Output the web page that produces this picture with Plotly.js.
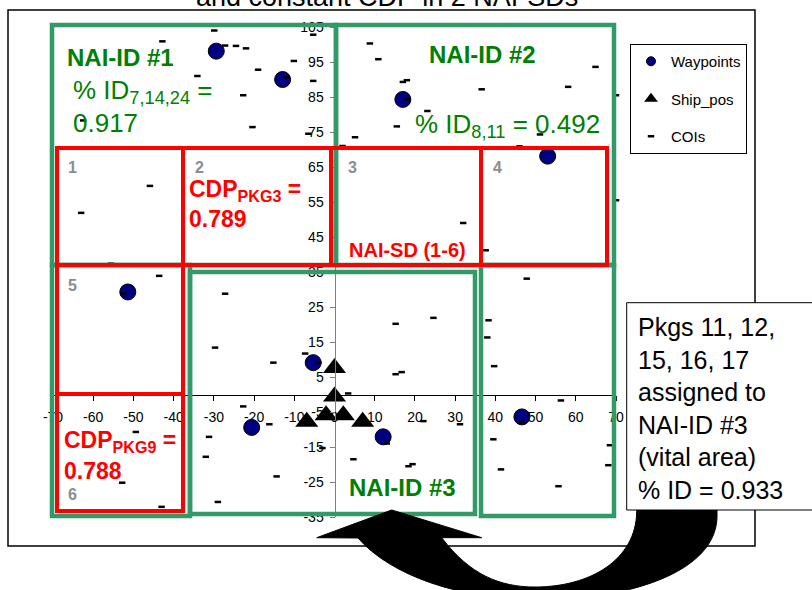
<!DOCTYPE html>
<html>
<head>
<meta charset="utf-8">
<script src="https://cdn.plot.ly/plotly-3.0.1.min.js"></script>
<style>html,body{margin:0;padding:0;background:#fff;}#chart{width:812px;height:590px;}</style>
</head>
<body>
<div id="chart"></div>
<script>
// ---- data ----
const waypointX = [-29.4, -12.9, 17.0, 53.0, -51.4, -5.3, -20.6, 12.1, 46.6];
const waypointY = [98.1, 90.0, 84.3, 68.1, 29.3, 9.1, -9.4, -12.1, -6.4];
const shipX = [0, 0, -2.1, 2.2, -6.9, 7.0];
const shipY = [7.6, -0.6, -5.9, -5.9, -7.8, -7.8];
const coiX = [-29.9, -42.8, -27.2, -24.5, -22.0, -10.1, -5.3, -11.9, -19.0, -34.1, -22.7, -20.4, -62.5, -6.5, -5.3, -45.9, -63.0, -55.6,
  8.8, 10.9, 17.0, 18.0, 18.0, 23.1, 36.6, 58.1, 64.9, 15.5, 5.1, 2.0, 46.0, 51.1, 32.0, 37.6, 70.0, 70.0,
  -43.6, -27.2, -29.7, -15.2, -7.3, -4.0, -52.5, -22.7, -16.2, -49.4, -31.2, -32.0, -14.4, -52.8, -29.0, -43.0, -3.0,
  47.8, 38.3, 15.2, 24.6, 38.0, 39.7, 15.2, 16.7, 3.4, 56.3, 39.5, 46.6, 22.1, 31.2, 13.0, 4.7, 18.4, 19.4, 41.4, 55.7, 68.5, 68.1];
const coiY = [104.0, 100.9, 99.7, 99.6, 98.9, 95.3, 89.6, 90.7, 92.8, 91.0, 85.5, 76.4, 78.3, 74.5, 102.8, 59.6, 51.9, 37.4,
  100.3, 95.8, 89.3, 89.8, 84.3, 81.0, 87.2, 87.9, 93.6, 76.6, 73.5, 71.0, 70.9, 74.3, 49.0, 41.2, 85.5, 55.5,
  33.9, 28.8, 13.4, 9.1, 11.7, 9.1, 28.8, -3.4, -8.5, -10.7, -12.1, -17.8, -23.4, -25.2, -30.7, -32.1, -15.3,
  33.1, 21.2, 20.2, 21.9, 16.3, 8.1, 5.8, 6.4, 0.3, -1.7, -12.8, -7.9, -7.6, -8.5, -14.0, -18.5, -20.5, -19.9, -21.4, -26.2, -14.5, -20.2];
const seriesNames = ['Waypoints', 'Ship_pos', 'COIs'];
const xTickVals = [-70, -60, -50, -40, -30, -20, -10, 0, 10, 20, 30, 40, 50, 60, 70];
const yTickVals = [105, 95, 85, 75, 65, 55, 45, 35, 25, 15, 5, -5, -15, -25, -35];

// ---- geometry helpers (pixel -> paper) ----
const W = 812, H = 590, L = 53, T = 27, PW = 563, PH = 490;
function px(x) { return (x - L) / PW; }
function py(y) { return (T + PH - y) / PH; }
function rectShape(x0, y0, x1, y1, color, width, fill) {
  return {type: 'rect', xref: 'paper', yref: 'paper', x0: px(x0), y0: py(y1), x1: px(x1), y1: py(y0),
    line: {color: color, width: width}, fillcolor: fill || 'rgba(0,0,0,0)', layer: 'above'};
}
function pathFrom(cmds) {
  return cmds.map(c => {
    const k = c[0]; const parts = [k];
    for (let i = 1; i < c.length; i += 2) parts.push(px(c[i]).toFixed(5) + ',' + py(c[i + 1]).toFixed(5));
    return parts.join(' ');
  }).join(' ');
}
const FONT = 'Liberation Sans, Arial, sans-serif';
const GREEN_LINE = '#339966', GREEN_TXT = '#008000', RED = '#FF0000', GREY = '#8c8c8c';
function ann(text, x, y, size, color, bold, xanchor, extra) {
  return Object.assign({text: bold ? '<b>' + text + '</b>' : text, xref: 'paper', yref: 'paper', x: px(x), y: py(y),
    xanchor: xanchor || 'left', yanchor: 'middle', showarrow: false,
    font: {family: FONT, size: size, color: color}}, extra || {});
}

const wpMarker = {symbol: 'circle', color: '#000080', line: {color: '#000000', width: 1}};
const shipMarker = {symbol: 'triangle-up', color: '#000000'};
const coiMarker = {symbol: 'line-ew', color: '#000000', line: {color: '#000000', width: 2.5}};

const traces = [
  {x: waypointX, y: waypointY, name: seriesNames[0], type: 'scatter', mode: 'markers', showlegend: false, cliponaxis: false,
   marker: Object.assign({size: 16}, wpMarker)},
  {x: shipX, y: shipY, name: seriesNames[1], type: 'scatter', mode: 'markers', showlegend: false, cliponaxis: false,
   marker: Object.assign({size: 20}, shipMarker)},
  {x: coiX, y: coiY, name: seriesNames[2], type: 'scatter', mode: 'markers', showlegend: false, cliponaxis: false,
   marker: Object.assign({size: 4.6}, coiMarker)},
  // legend entries (smaller symbols, like the reference legend)
  {x: [null], y: [null], name: seriesNames[0], type: 'scatter', mode: 'markers', legendgroup: 'a',
   marker: Object.assign({size: 9}, wpMarker)},
  {x: [null], y: [null], name: seriesNames[1], type: 'scatter', mode: 'markers', legendgroup: 'b',
   marker: Object.assign({size: 12}, shipMarker)},
  {x: [null], y: [null], name: seriesNames[2], type: 'scatter', mode: 'markers', legendgroup: 'c',
   marker: Object.assign({size: 4.6}, coiMarker)}
];

const shapes = [
  rectShape(8, 10, 755, 546, '#000000', 1.5),
  // green NAI-ID regions
  rectShape(52, 25, 336, 265, GREEN_LINE, 4.5),
  rectShape(336, 25, 614, 265, GREEN_LINE, 4.5),
  rectShape(52, 265, 190, 516, GREEN_LINE, 4.5),
  rectShape(190, 272, 475, 514, GREEN_LINE, 4.5),
  rectShape(481, 265, 614, 516, GREEN_LINE, 4.5),
  // red NAI-SD boxes
  rectShape(57, 148, 183, 265, RED, 4),
  rectShape(183, 148, 331, 265, RED, 4),
  rectShape(331, 148, 481, 265, RED, 4),
  rectShape(481, 148, 607, 265, RED, 4),
  rectShape(57, 265, 183, 394, RED, 4),
  rectShape(57, 394, 183, 511, RED, 4),
  // curved arrow
  {type: 'path', xref: 'paper', yref: 'paper', layer: 'above', fillcolor: '#000000', line: {color: '#000000', width: 1},
   path: pathFrom([['M', 717, 470], ['L', 717, 513], ['C', 720, 575, 620, 600, 540, 600], ['C', 460, 600, 390, 575, 358, 538],
     ['L', 316.7, 537.7], ['L', 391.7, 510], ['L', 481.7, 537.7], ['L', 441.7, 537.7],
     ['C', 470, 575, 500, 587, 535, 587], ['C', 590, 587, 636, 560, 636.7, 511.7], ['L', 636.7, 470], ['Z']])},
  // text box
  rectShape(626.7, 302.7, 830, 510, '#000000', 1, '#ffffff')
];

const annotations = [
  ann('and constant CDP in 2 NAI-SDs', 387, -3.5, 27, '#000000', false, 'center'),
  ann('NAI-ID #1', 120.5, 58, 24, GREEN_TXT, true, 'center'),
  ann('% ID<sub>7,14,24</sub> =', 71, 91, 26, GREEN_TXT, false),
  ann('0.917', 71, 123.3, 26, GREEN_TXT, false),
  ann('NAI-ID #2', 483, 54.3, 24, GREEN_TXT, true, 'center'),
  ann('% ID<sub>8,11</sub> = 0.492', 413, 125.8, 26, GREEN_TXT, false),
  ann('CDP<sub>PKG3</sub> =', 187, 190.5, 23, RED, true),
  ann('0.789', 187, 219.3, 23, RED, true),
  ann('NAI-SD (1-6)', 346.5, 249.5, 20, RED, true),
  ann('CDP<sub>PKG9</sub> =', 61.5, 441, 23, RED, true),
  ann('0.788', 61.5, 471, 23, RED, true),
  ann('NAI-ID #3', 402, 487.5, 24, GREEN_TXT, true, 'center'),
  ann('1', 72.7, 167.7, 16, GREY, true, 'center'),
  ann('2', 199, 167.7, 16, GREY, true, 'center'),
  ann('3', 352.7, 167.7, 16, GREY, true, 'center'),
  ann('4', 497.3, 167.7, 16, GREY, true, 'center'),
  ann('5', 72.7, 285, 16, GREY, true, 'center'),
  ann('6', 72.7, 494, 16, GREY, true, 'center'),
  ann('Pkgs 11, 12,<br>15, 16, 17<br>assigned to<br>NAI-ID #3<br>(vital area)<br>% ID = 0.933', 636, 408, 25, '#000000', false, 'left', {align: 'left'})
];

const layout = {
  width: W, height: H,
  margin: {l: L, r: W - L - PW, t: T, b: H - T - PH, pad: 0},
  paper_bgcolor: '#ffffff', plot_bgcolor: 'rgba(0,0,0,0)',
  font: {family: FONT, color: '#000000', size: 14},
  showlegend: true,
  legend: {x: px(630), y: py(44), xanchor: 'left', yanchor: 'top', bgcolor: '#ffffff', bordercolor: '#000000', borderwidth: 1,
    font: {family: FONT, size: 15, color: '#000000'}, itemsizing: 'trace', traceorder: 'grouped', tracegroupgap: 15},
  xaxis: {range: [-70, 70], tickvals: xTickVals, ticktext: xTickVals.map(String), anchor: 'free', position: 0.25,
    showline: true, linecolor: '#000000', linewidth: 1, ticks: 'outside', ticklen: 5, tickcolor: '#000000',
    showgrid: false, zeroline: false, tickfont: {size: 14, color: '#000000'}, ticklabelstandoff: 5, fixedrange: true},
  yaxis: {range: [-35, 105], tickvals: yTickVals, ticktext: yTickVals.map(String), anchor: 'free', position: 0.5,
    showline: true, linecolor: '#808080', linewidth: 1, ticks: 'outside', ticklen: 5, tickcolor: '#808080',
    showgrid: false, zeroline: false, tickfont: {size: 14, color: '#000000'}, ticklabelstandoff: 3, fixedrange: true},
  shapes: shapes,
  annotations: annotations
};

Plotly.newPlot('chart', traces, layout, {displayModeBar: false, staticPlot: true});
</script>
</body>
</html>
